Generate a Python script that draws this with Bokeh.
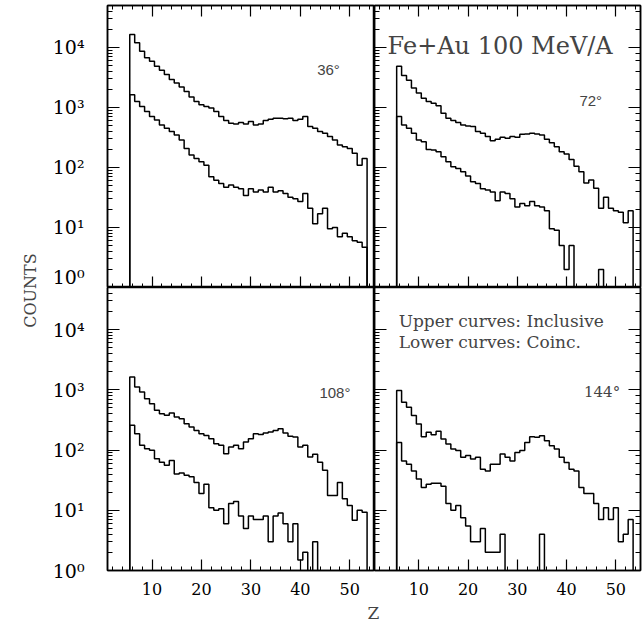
import numpy as np
from math import pi
from bokeh.plotting import figure
from bokeh.layouts import gridplot, row, column
from bokeh.models import (LinearAxis, LogAxis, Range1d, SingleIntervalTicker,
                          LogTicker, Label, CustomLabelingPolicy)
from bokeh.embed import file_html
from bokeh.resources import INLINE

# ---------------- data ----------------
z = list(range(6, 54))  # charge Z of each bin

inc_36 = [16500, 12000, 8680, 6710, 5900, 4870, 4170, 3530, 2910, 2560, 2190, 1850,
          1490, 1260, 1110, 1040, 975, 857, 707, 606, 546, 532, 561, 532, 582, 512,
          532, 606, 637, 662, 662, 646, 662, 606, 637, 707, 481, 451, 396, 372, 327,
          287, 237, 222, 208, 172, 109, 141]
coi_36 = [1630, 1260, 1040, 857, 707, 621, 512, 451, 396, 348, 287, 208, 161, 141,
          124, 109, 70, 61, 54, 47, 51, 47, 44, 34, 44, 39, 42, 39, 47, 39, 41, 37,
          32, 30, 27, 37, 21, 11.5, 17, 21, 9.5, 10, 7, 8, 7, 6, 5.7, 4.7]

inc_72 = [4870, 3400, 2840, 2110, 1740, 1430, 1260, 1180, 1070, 804, 662, 606, 561,
          512, 493, 481, 396, 372, 327, 280, 294, 318, 306, 327, 318, 357, 362, 372,
          362, 348, 294, 259, 222, 183, 167, 136, 105, 85, 55, 62, 45, 21, 32, 21,
          19, 18, 12, 19]
coi_72 = [707, 512, 451, 372, 287, 269, 200, 195, 183, 151, 124, 103, 96, 85, 72, 58,
          54, 44, 42, 39, 28, 39, 37, 30, 22, 25, 23, 27, 23, 22, 19, 9.5, 9, 5, 2, 5,
          0, 0, 0, 0, 0, 2, 0, 0, 0, 0, 0, 0]

inc_108 = [1630, 1110, 920, 713, 589, 456, 402, 377, 412, 353, 332, 274, 241, 212,
           187, 175, 154, 127, 120, 87, 112, 120, 105, 136, 154, 187, 182, 192, 199,
           212, 226, 192, 169, 164, 112, 120, 77, 85, 63, 46, 17.6, 17.6, 29, 15.5,
           12, 6.8, 10, 9.3]
coi_108 = [257, 187, 120, 105, 99, 72, 63, 56, 67, 40, 41.5, 38, 36, 29, 19, 27, 11,
           10, 10.6, 6, 13, 14, 8, 5, 8, 7, 7, 8, 3, 8, 9, 6, 3, 6, 1.5, 2, 0, 3,
           0, 0, 0, 0, 0, 0, 0, 0, 0, 0]

inc_144 = [975, 623, 514, 374, 271, 167, 197, 180, 205, 153, 126, 104, 98, 76, 81, 71,
           76, 48, 45, 58, 58, 86, 76, 66, 91, 98, 134, 167, 163, 173, 143, 118, 104,
           76, 62, 48, 45, 24, 19, 19, 13, 7, 11, 7, 11, 3, 4, 7]
coi_144 = [134, 66, 58, 45, 33, 24, 27, 28, 28, 25, 13, 10, 12, 7.5, 5.5, 3, 3, 5, 2,
           2, 2, 4, 0, 0, 0, 0, 0, 0, 0, 4, 0, 0, 0, 0, 0, 0, 0, 0, 0, 0, 0, 0, 0,
           0, 0, 0, 0, 0]

angles = ["36°", "72°", "108°", "144°"]
y_tick_labels = {1: "10⁰", 10: "10¹", 100: "10²", 1000: "10³", 10000: "10⁴"}
x_range_lim = (1, 55)
y_range_lim = (1, 5e4)

title_text = "Fe+Au 100 MeV/A"
note_upper = "Upper curves: Inclusive"
note_lower = "Lower curves: Coinc."

SERIF = "DejaVu Serif"
SANS = "Liberation Sans"
FLOOR = 0.3


def step_xy(vals):
    v = np.asarray(vals, dtype=float)
    v = np.where(v > 0, v, FLOOR)
    zz = np.asarray(z, dtype=float)
    xs = np.concatenate([[zz[0] - 0.5], zz - 0.5, [zz[-1] + 0.5]])
    ys = np.concatenate([[FLOOR], v, [FLOOR]])
    return xs, ys


def style_axis(ax, kind, show_labels):
    ax.axis_line_color = "black"
    ax.axis_line_width = 1.5
    ax.major_tick_line_color = "black"
    ax.minor_tick_line_color = "black"
    ax.major_tick_line_width = 1.2
    ax.minor_tick_line_width = 1.0
    ax.major_tick_out = 0
    ax.minor_tick_out = 0
    if kind == "x":
        ax.major_tick_in = 11
        ax.minor_tick_in = 4
    else:
        ax.major_tick_in = 12
        ax.minor_tick_in = 5
    if show_labels:
        ax.major_label_text_font = SERIF
        ax.major_label_text_color = "black"
        if kind == "y":
            ax.major_label_text_font_size = "19px"
            ax.major_label_overrides = y_tick_labels
            ax.major_label_standoff = 23
        else:
            ax.major_label_text_font_size = "16px"
            ax.major_label_standoff = 12
    else:
        ax.major_label_text_font_size = "1px"
        ax.major_label_standoff = -10
        ax.major_label_policy = CustomLabelingPolicy(code="return []")


def x_ticker():
    return SingleIntervalTicker(interval=10, num_minor_ticks=5)


def make_panel(width, height, mb_left, mb_right, mb_top, mb_bottom,
               xlabels, ylabels, top_ticks, right_ticks):
    p = figure(width=width, height=height, x_range=Range1d(*x_range_lim),
               y_range=Range1d(*y_range_lim), y_axis_type="log",
               output_backend="svg", toolbar_location=None,
               min_border_left=mb_left, min_border_right=mb_right,
               min_border_top=mb_top, min_border_bottom=mb_bottom)
    p.grid.visible = False
    p.outline_line_color = "black"
    p.outline_line_width = 1.5
    p.background_fill_color = "white"
    p.border_fill_color = "white"
    p.xaxis.ticker = x_ticker()
    style_axis(p.xaxis[0], "x", xlabels)
    style_axis(p.yaxis[0], "y", ylabels)
    if top_ticks:
        ax = LinearAxis(ticker=x_ticker())
        style_axis(ax, "x", False)
        p.add_layout(ax, "above")
    if right_ticks:
        ax = LogAxis(ticker=LogTicker())
        style_axis(ax, "y", False)
        p.add_layout(ax, "right")
    return p


def draw(p, upper, lower):
    for vals in (upper, lower):
        xs, ys = step_xy(vals)
        p.step(xs, ys, mode="after", line_color="black", line_width=1.5)


LEFT_W = 42
tl = make_panel(374 - LEFT_W, 287, 107 - LEFT_W, 0, 5, 0, False, True, True, False)
tr = make_panel(269, 287, 0, 3, 5, 0, False, False, True, True)
bl = make_panel(374 - LEFT_W, 313, 107 - LEFT_W, 0, 0, 30, True, True, False, False)
br = make_panel(269, 313, 0, 3, 0, 30, True, False, False, True)

draw(tl, inc_36, coi_36)
draw(tr, inc_72, coi_72)
draw(bl, inc_108, coi_108)
draw(br, inc_144, coi_144)

tl.add_layout(Label(x=45.7, y=4270, text=angles[0], text_font=SANS,
                    text_font_size="15px", text_align="center", text_baseline="middle"))
tr.add_layout(Label(x=44.9, y=1290, text=angles[1], text_font=SANS,
                    text_font_size="15px", text_align="center", text_baseline="middle"))
bl.add_layout(Label(x=47.0, y=910, text=angles[2], text_font=SANS,
                    text_font_size="15px", text_align="center", text_baseline="middle"))
br.add_layout(Label(x=47.2, y=910, text=angles[3], text_font=SERIF,
                    text_font_size="15px", text_align="center", text_baseline="middle"))

tr.add_layout(Label(x=26.5, y=10400, text=title_text, text_font=SERIF,
                    text_font_size="24px", text_align="center", text_baseline="middle"))
br.add_layout(Label(x=5.9, y=13700, text=note_upper, text_font=SERIF,
                    text_font_size="17px", text_align="left", text_baseline="middle"))
br.add_layout(Label(x=5.9, y=6140, text=note_lower, text_font=SERIF,
                    text_font_size="17px", text_align="left", text_baseline="middle"))

grid = gridplot([[tl, tr], [bl, br]], toolbar_location=None)

counts_fig = figure(width=LEFT_W, height=600, x_range=Range1d(0, LEFT_W),
                    y_range=Range1d(0, 600), output_backend="svg",
                    toolbar_location=None, min_border=0)
counts_fig.axis.visible = False
counts_fig.grid.visible = False
counts_fig.outline_line_color = None
counts_fig.add_layout(Label(x=30, y=310, text="COUNTS", angle=pi / 2, text_font=SERIF,
                            text_font_size="16px", text_align="center",
                            text_baseline="middle"))

z_fig = figure(width=643, height=28, x_range=Range1d(0, 643), y_range=Range1d(0, 28),
               output_backend="svg", toolbar_location=None, min_border=0)
z_fig.axis.visible = False
z_fig.grid.visible = False
z_fig.outline_line_color = None
z_fig.add_layout(Label(x=373, y=16, text="Z", text_font=SERIF, text_font_size="17px",
                       text_align="center", text_baseline="middle"))

layout = column(row(counts_fig, grid), z_fig)

open("out.html", "w").write(file_html(layout, INLINE))
